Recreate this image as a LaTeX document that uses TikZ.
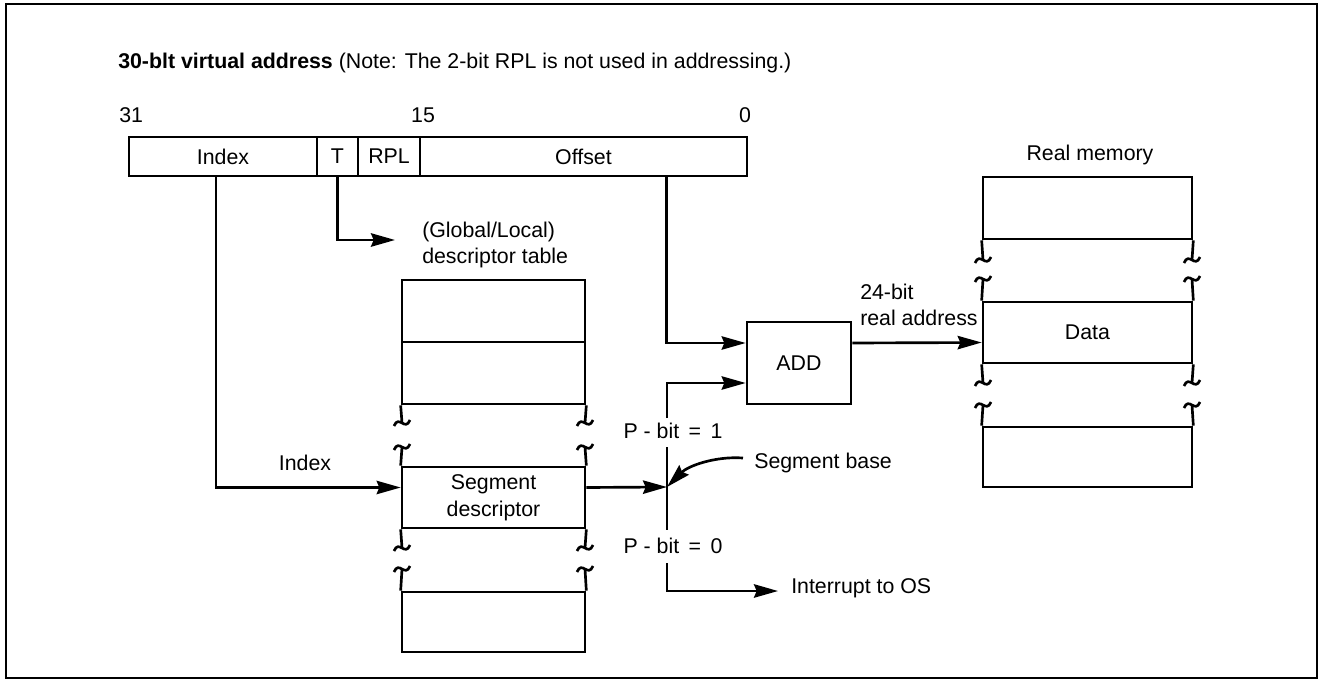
\documentclass[tikz,border=0pt]{standalone}
\usepackage{fontspec}
\setmainfont{Liberation Sans}
\usetikzlibrary{arrows.meta,calc}
\newcommand\brk[2]{\draw[line] ({#1-8},{#2+3}) .. controls ({#1-3},{#2-9}) and ({#1+3},{#2+9}) .. ({#1+8},{#2-3});}
\newcommand\cellnode[6]{\node[cell, minimum width={(#4-#2)*0.75pt}, minimum height={(#5-#3)*0.75pt}] (#1) at ({(#2+#4)/2},{(#3+#5)/2}) {#6};}
\begin{document}
\begin{tikzpicture}[x=0.75pt,y=-0.75pt,
  line/.style={line width=2pt},
  cell/.style={draw, line width=2pt, inner sep=0pt, align=center, font=\fontsize{16}{20}\selectfont},
  lbl/.style={font=\fontsize{16}{20}\selectfont, inner sep=0pt, align=left},
  arr/.style={line width=2pt, -{Stealth[length=18pt,width=10pt,inset=2pt]}}]
\useasboundingbox (0,0) rectangle (1322,681);
\draw[line width=1.3pt] (6,4) rectangle (1317,678);

% title and bit numbers
\node[lbl, anchor=west] (title) at (118,63) {\textbf{30-blt virtual address} (Note: The 2-bit RPL is not used in addressing.)};
\node[lbl, anchor=west] (b31) at (119,115) {31};
\node[lbl] (b15) at (423,115) {15};
\node[lbl] (b0) at (745,115) {0};

% virtual address fields
\cellnode{idx}{129}{137}{317}{176}{Index}
\cellnode{tf}{317}{137}{358}{176}{T}
\cellnode{rpl}{358}{137}{420}{176}{RPL}
\cellnode{off}{420}{137}{747}{176}{Offset}

% descriptor table
\node[lbl, anchor=west] (gl) at (422,245) {(Global/Local)\\descriptor table};
\cellnode{dt1}{402}{280}{585}{342}{}
\cellnode{dt2}{402}{342}{585}{404}{}
\cellnode{seg}{402}{467}{585}{528}{Segment\\descriptor}
\cellnode{dt4}{402}{592}{585}{652}{}
\draw[line] (dt2.south west) -- (402,423) (dt2.south east) -- (585,423);
\draw[line] (402,447) -- (seg.north west) (585,447) -- (seg.north east);
\draw[line] (seg.south west) -- (402,548) (seg.south east) -- (585,548);
\draw[line] (402,569) -- (dt4.north west) (585,569) -- (dt4.north east);
\brk{402}{423}\brk{585}{423}\brk{402}{447}\brk{585}{447}
\brk{402}{548}\brk{585}{548}\brk{402}{569}\brk{585}{569}

% ADD
\cellnode{add}{747}{322}{851}{404}{ADD}
\node[lbl, anchor=west] (ra) at (860,305) {24-bit\\real address};

% real memory
\node[lbl] (rmt) at (1090,155) {Real memory};
\cellnode{rm1}{983}{177}{1192}{239}{}
\cellnode{data}{983}{302}{1192}{363}{Data}
\cellnode{rm4}{983}{427}{1192}{487}{}
\draw[line] (rm1.south west) -- (983,260) (rm1.south east) -- (1192,260);
\draw[line] (983,279) -- (data.north west) (1192,279) -- (data.north east);
\draw[line] (data.south west) -- (983,383) (data.south east) -- (1192,383);
\draw[line] (983,405) -- (rm4.north west) (1192,405) -- (rm4.north east);
\brk{983}{260}\brk{1192}{260}\brk{983}{279}\brk{1192}{279}
\brk{983}{383}\brk{1192}{383}\brk{983}{405}\brk{1192}{405}

% P-bit labels
\node[lbl] (p1) at (673,431) {P - bit \,=\, 1};
\node[lbl] (p0) at (673,546) {P - bit \,=\, 0};
\node[lbl, anchor=west] (sb) at (754,463) {Segment base};
\node[lbl, anchor=west] (int) at (791,588) {Interrupt to OS};
\node[lbl] (ix) at (305,463) {Index};

\coordinate (j) at (667,487);
\coordinate (gtip) at (395,240);
\coordinate (p1top) at (667,418);
\coordinate (p1bot) at (667,447);
\coordinate (p0top) at (667,530);
\coordinate (p0bot) at (667,563);

% connectors
\draw[arr] ($(idx.south)+(-7,0)$) |- ($(seg.west)+(0,-10)$);
\draw[arr] (tf.south) |- (gtip);
\draw[arr] ($(off.south)+(83,0)$) |- ($(add.west)+(0,-20)$);
\draw[arr] (p1top) |- ($(add.west)+(0,20)$);
\draw[line] (p1bot) -- (p0top);
\draw[arr] ($(seg.east)+(0,-10)$) -- (j);
\draw[arr] ($(sb.west)+(-11,-5)$) .. controls (715,456) and (688,466) .. (j);
\draw[arr] (p0bot) |- ($(int.west)+(-13,3)$);
\draw[arr] ($(add.east)+(0,-20)$) -- ($(data.west)+(0,10)$);
\end{tikzpicture}
\end{document}
